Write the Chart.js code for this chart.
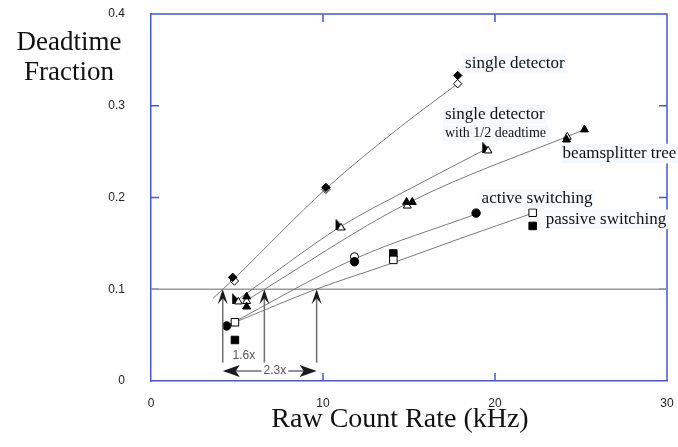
<!DOCTYPE html>
<html>
<head>
<meta charset="utf-8">
<script src="https://cdn.jsdelivr.net/npm/chart.js@4.4.1/dist/chart.umd.min.js"></script>
<style>
  body { margin: 0; background: #fff; }
</style>
</head>
<body>
<canvas id="myChart" width="678" height="447"></canvas>
<script>
// values: raw count rate (kHz) vs deadtime fraction

// single detector (diamonds)
const sdRate = [4.75, 10.17, 17.83];
const sdMeas = [0.113, 0.211, 0.333];
const sdModelRate = [4.85, 10.17, 17.83];
const sdModel = [0.109, 0.209, 0.324];
const sdFitRate = [3.6, 4.8, 10.2, 14.5, 17.83];
const sdFit = [0.090, 0.111, 0.210, 0.277, 0.324];

// single detector with 1/2 deadtime
const halfRate = [4.98, 10.99, 19.52];
const halfMeas = [0.090, 0.171, 0.255];
const halfModelRate = [5.08, 11.05, 19.6];
const halfModel = [0.0864, 0.167, 0.251];
const halfFitRate = [5.0, 11.0, 15.0, 19.5];
const halfFit = [0.088, 0.168, 0.209, 0.253];

// beamsplitter tree
const bsRate = [5.56, 5.56, 14.86, 15.19, 24.16, 25.2];
const bsMeas = [0.092, 0.081, 0.195, 0.195, 0.263, 0.274];
const bsModelRate = [5.56, 14.9, 24.2];
const bsModel = [0.087, 0.191, 0.266];
const bsFitRate = [5.56, 14.94, 25.2];
const bsFit = [0.088, 0.194, 0.274];

// active switching
const actRate = [4.4, 11.83, 18.9];
const actMeas = [0.060, 0.130, 0.183];
const actModelRate = [11.83];
const actModel = [0.1355];
const actFitRate = [4.4, 11.83, 18.9];
const actFit = [0.060, 0.133, 0.182];

// passive switching
const pasRate = [4.88, 14.09, 22.19];
const pasMeas = [0.0447, 0.139, 0.169];
const pasModelRate = [4.88, 14.09, 22.19];
const pasModel = [0.064, 0.132, 0.1834];
const pasFitRate = [4.88, 9.6, 14.1, 18.0, 22.2];
const pasFit = [0.064, 0.100, 0.129, 0.1555, 0.183];

// 10% deadtime level and the rate-gain arrows
const refLevel = 0.1;
const arrowRates = [4.17, 6.59, 9.63];
const gainLabels = ['1.6x', '2.3x'];

const xTicks = [0, 10, 20, 30];
const yTicks = [0, 0.1, 0.2, 0.3, 0.4];

const seriesLabels = ['single detector', 'single detector', 'with 1/2 deadtime',
                      'beamsplitter tree', 'active switching', 'passive switching'];

function pts(xs, ys){
    return xs.map((x, i) => ({x: x, y: ys[i]}));
}

// right-angled "flag" triangle marker
function flagMarker(size){
    const c = document.createElement('canvas');
    c.width = size; c.height = size;
    const g = c.getContext('2d');
    g.beginPath();
    g.moveTo(1, 0);
    g.lineTo(1, size);
    g.lineTo(size, size);
    g.closePath();
    g.fillStyle = '#000';
    g.fill();
    return c;
}

const AXIS = '#4757d4';
const FIT = '#7a7a7a';

function fitLine(xs, ys){
    return {
        type: 'line', data: pts(xs, ys), borderColor: FIT, borderWidth: 1,
        pointRadius: 0, cubicInterpolationMode: 'monotone', fill: false, order: 20
    };
}
function marks(xs, ys, style, r, filled, order){
    return {
        type: 'scatter', data: pts(xs, ys), pointStyle: style, pointRadius: r,
        pointHoverRadius: r, backgroundColor: filled ? '#000' : '#fff',
        borderColor: '#000', borderWidth: 1, order: order
    };
}

// frame, inner ticks, labels, arrows
const decor = {
    id: 'decor',
    beforeDatasetsDraw(chart){
        const ctx = chart.ctx, a = chart.chartArea;
        const sx = chart.scales.x, sy = chart.scales.y;
        ctx.save();
        ctx.strokeStyle = AXIS;
        ctx.lineWidth = 1.5;
        ctx.beginPath();
        ctx.moveTo(a.left, a.top); ctx.lineTo(a.right, a.top); ctx.lineTo(a.right, a.bottom);
        ctx.stroke();
        ctx.beginPath();
        [10, 20].forEach(v => {
            const px = sx.getPixelForValue(v);
            ctx.moveTo(px, a.bottom); ctx.lineTo(px, a.bottom - 8);
            ctx.moveTo(px, a.top); ctx.lineTo(px, a.top + 8);
        });
        [0.1, 0.2, 0.3].forEach(v => {
            const py = sy.getPixelForValue(v);
            ctx.moveTo(a.left, py); ctx.lineTo(a.left + 8, py);
            ctx.moveTo(a.right, py); ctx.lineTo(a.right - 8, py);
        });
        ctx.stroke();
        ctx.restore();
    },
    afterDraw(chart){
        const ctx = chart.ctx;
        const sx = chart.scales.x, sy = chart.scales.y;
        const X = v => sx.getPixelForValue(v), Y = v => sy.getPixelForValue(v);
        ctx.save();

        // arrows
        const top = Y(refLevel), bot = Y(0.02), spanY = Y(0.011);
        ctx.strokeStyle = '#6e6e6e';
        ctx.lineWidth = 1.5;
        arrowRates.forEach(r => {
            ctx.beginPath(); ctx.moveTo(X(r), bot); ctx.lineTo(X(r), top + 6); ctx.stroke();
        });
        ctx.fillStyle = '#1a1a1a';
        arrowRates.forEach(r => {
            const px = X(r);
            ctx.beginPath();
            ctx.moveTo(px, top);
            ctx.lineTo(px + 5, top + 15);
            ctx.lineTo(px, top + 9);
            ctx.lineTo(px - 5, top + 15);
            ctx.closePath();
            ctx.fill();
        });
        const l = X(arrowRates[0]), rr = X(arrowRates[2]);
        ctx.beginPath(); ctx.moveTo(l + 10, spanY); ctx.lineTo(rr - 10, spanY); ctx.stroke();
        [[l, 1], [rr, -1]].forEach(([px, d]) => {
            ctx.beginPath();
            ctx.moveTo(px, spanY);
            ctx.lineTo(px + d * 17, spanY - 6);
            ctx.lineTo(px + d * 13, spanY);
            ctx.lineTo(px + d * 17, spanY + 6);
            ctx.closePath();
            ctx.fill();
        });
        ctx.font = '12px "Liberation Sans", Arial, sans-serif';
        ctx.textBaseline = 'middle';
        ctx.textAlign = 'center';
        ctx.fillStyle = '#555';
        ctx.fillText(gainLabels[0], X(5.4), Y(0.0276));
        const gx = X(7.2), w = ctx.measureText(gainLabels[1]).width;
        ctx.fillStyle = '#fff';
        ctx.fillRect(gx - w / 2 - 2, spanY - 7, w + 4, 14);
        ctx.fillStyle = '#555';
        ctx.fillText(gainLabels[1], gx, spanY);

        // series labels
        const notes = [
            [seriesLabels[0], 18.26, 0.3411, 17],
            [seriesLabels[1], 17.09, 0.2856, 17],
            [seriesLabels[2], 17.09, 0.2663, 14],
            [seriesLabels[3], 23.93, 0.2427, 17],
            [seriesLabels[4], 19.22, 0.1937, 17],
            [seriesLabels[5], 22.95, 0.1711, 17]
        ];
        ctx.textAlign = 'left';
        ctx.textBaseline = 'alphabetic';
        notes.forEach(([t, x, y, s]) => {
            ctx.font = s + 'px "Liberation Serif", "Times New Roman", serif';
            const tw = ctx.measureText(t).width;
            ctx.fillStyle = '#f5f9fd';
            ctx.fillRect(X(x) - 2, Y(y) - s * 0.85, tw + 4, s * 1.15);
            ctx.fillStyle = '#111';
            ctx.fillText(t, X(x), Y(y));
        });

        // axis titles
        ctx.font = '27px "Liberation Serif", "Times New Roman", serif';
        ctx.textAlign = 'center';
        ctx.fillStyle = '#111';
        ctx.fillText('Deadtime', 69, 50);
        ctx.fillText('Fraction', 69, 80);
        ctx.font = '28px "Liberation Serif", "Times New Roman", serif';
        ctx.fillText('Raw Count Rate (kHz)', 400, 427);
        ctx.restore();
    }
};

const flag = flagMarker(11);
const tickFont = { family: '"Liberation Sans", Arial, sans-serif', size: 12 };

const ctx = document.getElementById('myChart').getContext('2d');
const myChart = new Chart(ctx, {
    data: {
        datasets: [
            {type: 'line', data: [{x: 0, y: refLevel}, {x: 30, y: refLevel}], borderColor: '#9a9a9a',
             borderWidth: 1.5, pointRadius: 0, order: 30},
            fitLine(sdFitRate, sdFit),
            fitLine(halfFitRate, halfFit),
            fitLine(bsFitRate, bsFit),
            fitLine(actFitRate, actFit),
            fitLine(pasFitRate, pasFit),
            marks(sdModelRate, sdModel, 'rectRot', 4.2, false, 6),
            marks(sdRate, sdMeas, 'rectRot', 4.2, true, 5),
            marks(halfRate, halfMeas, flag, 5, true, 6),
            marks(halfModelRate, halfModel, 'triangle', 4.4, false, 5),
            marks(bsModelRate, bsModel, 'triangle', 4.6, false, 6),
            marks(bsRate, bsMeas, 'triangle', 4.6, true, 5),
            marks(actModelRate, actModel, 'circle', 4, false, 6),
            marks(actRate, actMeas, 'circle', 4.2, true, 5),
            marks(pasModelRate, pasModel, 'rect', 5.3, false, 5),
            marks(pasRate, pasMeas, 'rect', 5.3, true, 6)
        ]
    },
    options: {
        responsive: false,
        animation: false,
        events: [],
        layout: { padding: { left: 0, top: 14, right: 11, bottom: 0 } },
        plugins: {
            legend: { display: false },
            tooltip: { enabled: false }
        },
        scales: {
            x: {
                type: 'linear', min: 0, max: 30,
                afterBuildTicks: s => { s.ticks = xTicks.map(v => ({value: v})); },
                afterFit: s => { s.height = 66; s.paddingLeft = 0; s.paddingRight = 0; },
                grid: { display: false },
                border: { display: true, color: AXIS, width: 1.5 },
                ticks: { padding: 7, color: '#222', font: tickFont }
            },
            y: {
                type: 'linear', min: 0, max: 0.4,
                afterBuildTicks: s => { s.ticks = yTicks.map(v => ({value: v})); },
                afterFit: s => { s.width = 151; s.paddingTop = 0; s.paddingBottom = 0; },
                grid: { display: false },
                border: { display: true, color: AXIS, width: 1.5 },
                ticks: { padding: 18, color: '#222', font: tickFont }
            }
        }
    },
    plugins: [decor]
});
</script>
</body>
</html>
